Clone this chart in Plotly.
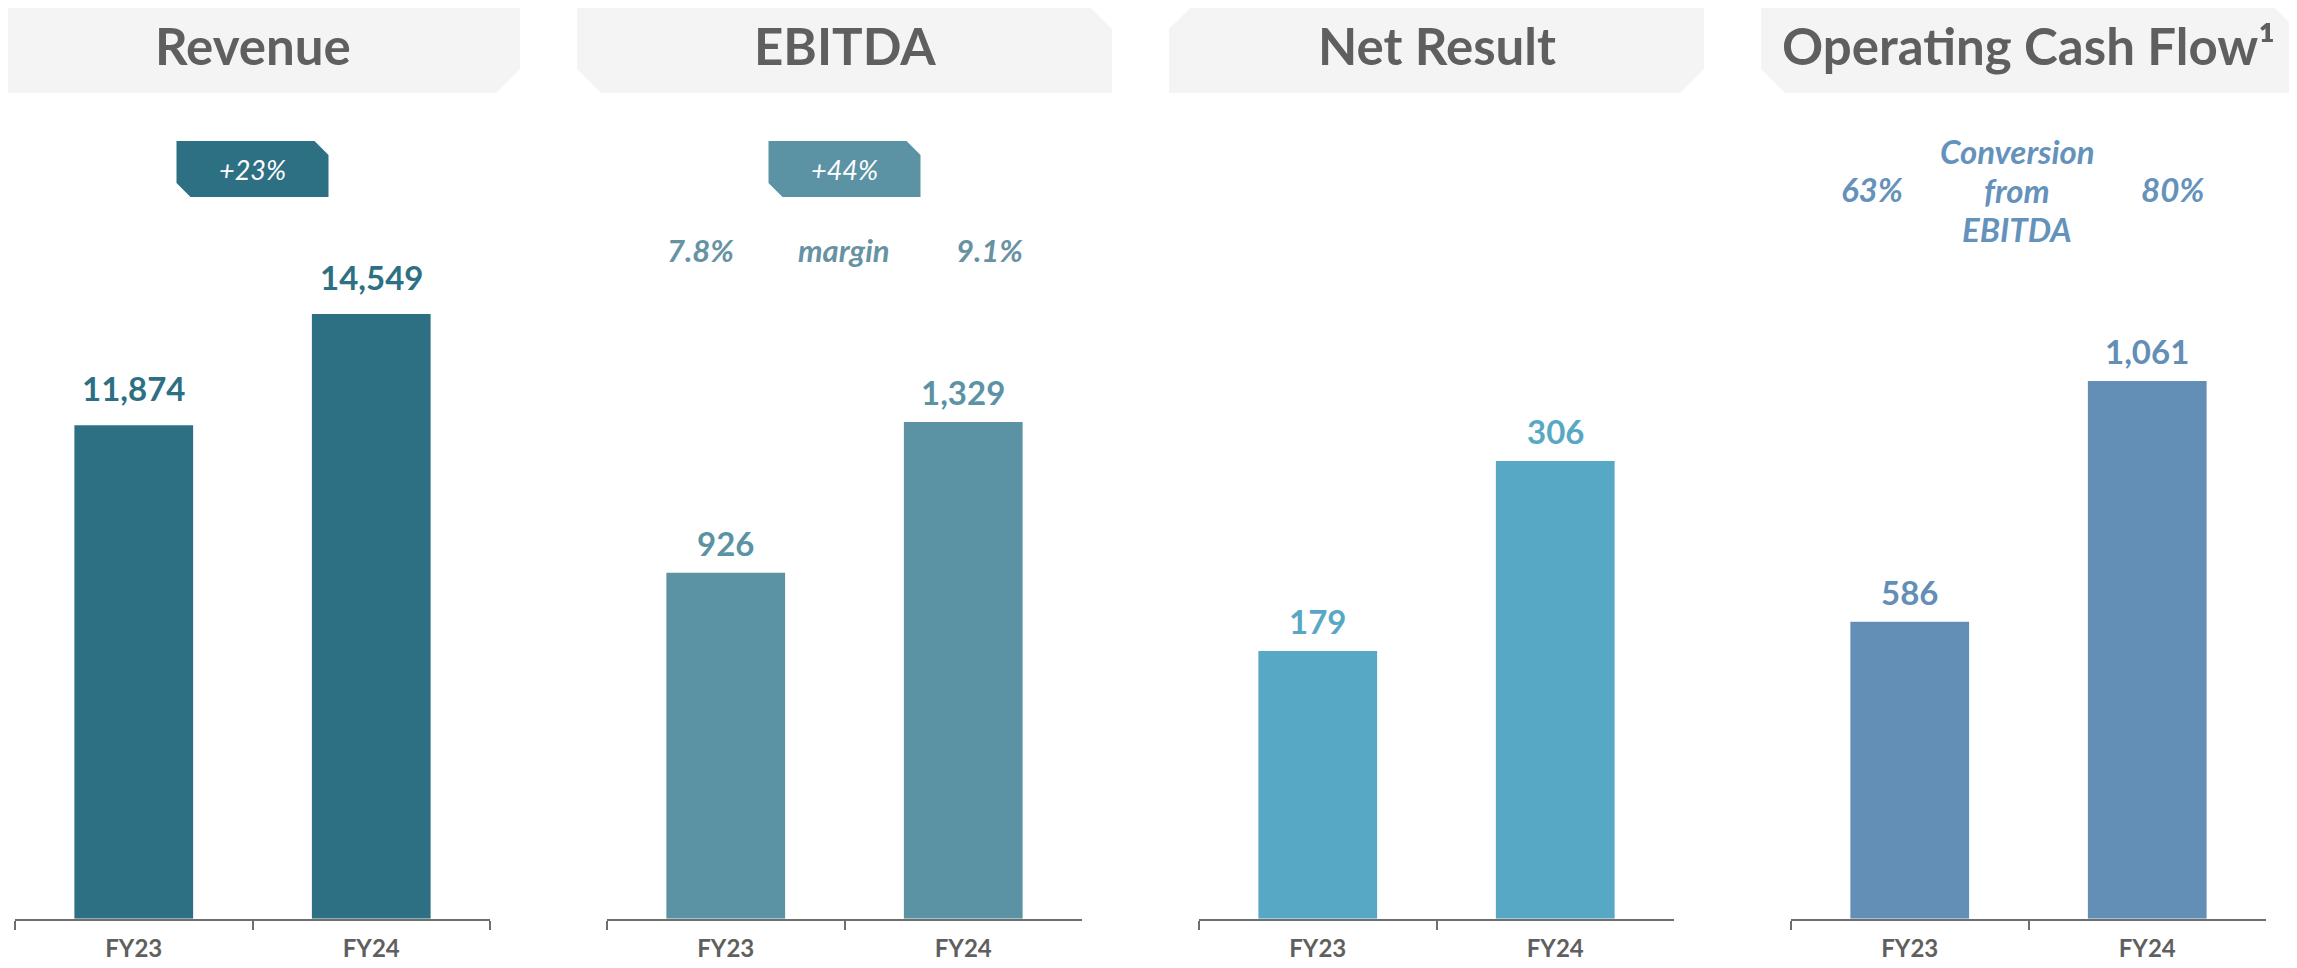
import plotly.graph_objects as go

# figures in EUR m
periods = ["FY23", "FY24"]
titles = ["Revenue", "EBITDA", "Net Result", "Operating Cash Flow¹"]
revenue = [11874, 14549]
ebitda = [926, 1329]
net_result = [179, 306]
op_cash_flow = [586, 1061]
growth = ["+23%", "+44%", None, None]
ebitda_margin = ["7.8%", "9.1%"]
cash_conversion = ["63%", "80%"]
conversion_label = ["Conversion", "from", "EBITDA"]

series = [revenue, ebitda, net_result, op_cash_flow]
colors = ["#2e7083", "#5b93a5", "#57a8c4", "#638eb6"]
y_max = [18496, 2057, 514, 1517]
label_shift = [15, 8, 8, 8]

# the page body has an 8px margin, so the figure is drawn from (8, 8)
OFF = 8
W, H = 2297 - OFF, 968 - OFF
FONT = "Lato"
GREY = "#5f5f5f"


def px(x):
    return (x - OFF) / W


def py(y):
    return 1 - (y - OFF) / H


def cut_box(x0, y0, x1, y1, c, flip):
    # slide-style box with two opposite corners cut off
    if flip:
        pts = [(x0, y0), (x1 - c, y0), (x1, y0 + c), (x1, y1), (x0 + c, y1), (x0, y1 - c)]
    else:
        pts = [(x0, y0 + c), (x0 + c, y0), (x1, y0), (x1, y1 - c), (x1 - c, y1), (x0, y1)]
    return "M " + " L ".join(f"{px(x):.5f},{py(y):.5f}" for x, y in pts) + " Z"


panel_left = [15, 607, 1199, 1791]
panel_w = 475
axis_y = 918.7
plot_top = 150

fig = go.Figure()
shapes = []
annotations = []

for i, values in enumerate(series):
    n = "" if i == 0 else str(i + 1)
    left = panel_left[i]
    mid = left + panel_w / 2

    fig.add_trace(go.Bar(
        x=periods, y=values, width=0.5,
        marker_color=colors[i], marker_line_width=0,
        xaxis="x" + n, yaxis="y" + n,
        showlegend=False, hoverinfo="skip"))

    fig.update_layout({
        "xaxis" + n: dict(
            domain=[px(left), px(left + panel_w)], anchor="y" + n,
            range=[-0.5, 1.5], showgrid=False, zeroline=False,
            showline=True, linecolor="#6e6e6e", linewidth=2,
            ticks="outside", tickson="boundaries", ticklen=9,
            tickwidth=2, tickcolor="#6e6e6e", ticklabelstandoff=7,
            tickfont=dict(family=FONT, size=24, color=GREY, weight="bold")),
        "yaxis" + n: dict(
            domain=[py(axis_y), py(plot_top)], anchor="x" + n,
            range=[0, y_max[i]], visible=False),
    })

    for p, v in zip(periods, values):
        annotations.append(dict(
            x=p, y=v, xref="x" + n, yref="y" + n, text=f"{v:,}",
            showarrow=False, yanchor="bottom", yshift=label_shift[i],
            font=dict(family=FONT, size=33, color=colors[i], weight="bold")))

    # header box
    flip = i % 2 == 1
    shapes.append(dict(type="path", path=cut_box(left - 30, 5, left + panel_w + 30, 93, 24, flip),
                       xref="paper", yref="paper", fillcolor="#f4f4f4", line_width=0, layer="below"))
    annotations.append(dict(
        x=px(mid), y=py(45), xref="paper", yref="paper", text=titles[i],
        showarrow=False, xanchor="center", yanchor="middle",
        font=dict(family=FONT, size=51, color=GREY, weight="bold")))

    if growth[i]:
        shapes.append(dict(type="path", path=cut_box(mid - 76, 141, mid + 76, 197, 14, True),
                           xref="paper", yref="paper", fillcolor=colors[i], line_width=0))
        annotations.append(dict(
            x=px(mid), y=py(170), xref="paper", yref="paper", text=growth[i],
            showarrow=False, xanchor="center", yanchor="middle",
            font=dict(family=FONT, size=27, color="white", style="italic")))

# EBITDA margin row
m_left = panel_left[1]
for x, t in zip([m_left + 93, m_left + 237, m_left + 382],
                [ebitda_margin[0], "margin", ebitda_margin[1]]):
    annotations.append(dict(
        x=px(x), y=py(250), xref="paper", yref="paper", text=t,
        showarrow=False, xanchor="center", yanchor="middle",
        font=dict(family=FONT, size=31, color="#6792a3", weight="bold", style="italic")))

# cash conversion row
c_left = panel_left[3]
conv_font = dict(family=FONT, size=33, color="#6592bb", weight="bold", style="italic")
for x, t in zip([c_left + 81, c_left + 381], cash_conversion):
    annotations.append(dict(
        x=px(x), y=py(189), xref="paper", yref="paper", text=t,
        showarrow=False, xanchor="center", yanchor="middle", font=conv_font))
for y, t in zip([151, 190, 229], conversion_label):
    annotations.append(dict(
        x=px(c_left + 226), y=py(y), xref="paper", yref="paper", text=t,
        showarrow=False, xanchor="center", yanchor="middle", font=conv_font))

fig.update_layout(
    width=W, height=H,
    margin=dict(l=0, r=0, t=0, b=0),
    paper_bgcolor="white", plot_bgcolor="white",
    bargap=0.5,
    shapes=shapes,
    annotations=annotations,
)

fig.write_html("out.html")
